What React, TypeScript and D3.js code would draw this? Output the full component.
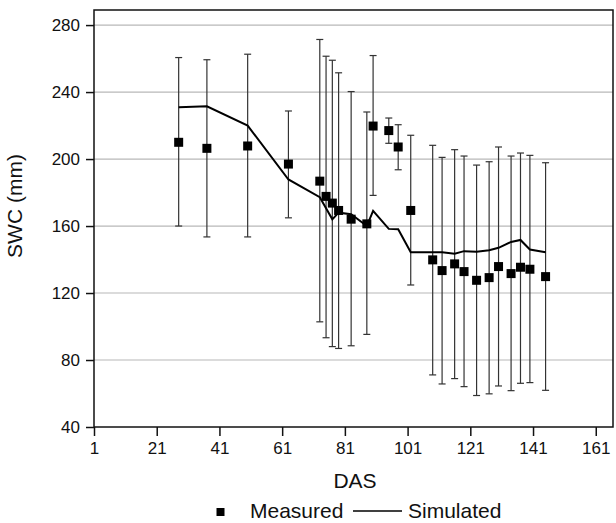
import React, { useEffect, useRef } from 'react';
import * as d3 from 'd3';

// measured soil water content (mean with error bar limits)
const measDays = [28, 37, 50, 63, 73, 75, 77, 79, 83, 88, 90, 95, 98, 102, 109, 112, 116, 119, 123, 127, 130, 134, 137, 140, 145];
const measured = [210, 206.4, 207.8, 197, 186.8, 177.7, 173.7, 169.3, 164.1, 161.3, 219.7, 217, 207.2, 169.3, 139.8, 133.4, 137.4, 132.8, 127.6, 129.2, 135.8, 131.6, 135.4, 134.2, 129.8];
const upper = [260.6, 259.3, 262.6, 228.7, 271.4, 261.4, 259, 251.5, 240.3, 228.1, 261.8, 224.5, 220.5, 214.2, 208.2, 201, 205.6, 201.8, 196.4, 198.4, 207.2, 201.8, 203.6, 202.2, 197.8];
const lower = [160, 153.5, 153.5, 164.9, 102.8, 93.3, 88, 86.9, 88.5, 95.3, 178.3, 209.4, 193.6, 124.8, 71.1, 65.7, 68.9, 64.1, 58.8, 59.8, 64.5, 61.7, 66.1, 66.5, 61.9];

// simulated curve
const simDays = [28, 37, 50, 63, 73, 77, 79, 83, 88, 90, 95, 98, 102, 109, 112, 116, 119, 123, 127, 130, 134, 137, 140, 145];
const simulated = [231, 231.5, 220, 187.8, 177.2, 164, 168, 167, 160, 169, 158.3, 158.1, 144.3, 144.3, 144.3, 143.5, 145, 144.7, 145.5, 147, 150.5, 151.7, 146, 144.3];

const xTicks = [1, 21, 41, 61, 81, 101, 121, 141, 161];
const yTicks = [40, 80, 120, 160, 200, 240, 280];

const FONT = '"Liberation Sans", Arial, sans-serif';

const App = () => {
  const svgRef = useRef<SVGSVGElement>(null);

  useEffect(() => {
    const svg = d3.select(svgRef.current);
    svg.selectAll('*').remove();

    const margin = { top: 10, left: 94 };
    const w = 519;
    const h = 417;

    const x = d3.scaleLinear().domain([1, 166.5]).range([0, w]);
    const y = d3.scaleLinear().domain([40, 289]).range([h, 0]);

    const g = svg.append('g').attr('transform', `translate(${margin.left},${margin.top})`);

    // grid
    g.selectAll('.grid')
      .data(yTicks.filter(t => t > 40))
      .enter().append('line')
      .attr('x1', 0).attr('x2', w)
      .attr('y1', d => y(d)).attr('y2', d => y(d))
      .attr('stroke', '#b8b8b8')
      .attr('stroke-width', 1.2);

    // frame
    g.append('rect')
      .attr('width', w).attr('height', h)
      .attr('fill', 'none')
      .attr('stroke', '#111')
      .attr('stroke-width', 1.5);

    // axes
    const xAxis = g.append('g').attr('transform', `translate(0,${h})`)
      .call(d3.axisBottom(x).tickValues(xTicks).tickSize(9).tickPadding(6).tickFormat(d3.format('d')));
    const yAxis = g.append('g')
      .call(d3.axisLeft(y).tickValues(yTicks).tickSize(8).tickPadding(6).tickFormat(d3.format('d')));
    [xAxis, yAxis].forEach(a => {
      a.select('.domain').remove();
      a.selectAll('line').attr('stroke', '#111').attr('stroke-width', 1.5);
      a.selectAll('text').attr('font-family', FONT).attr('font-size', 17).attr('fill', '#111');
    });

    // error bars
    const bars = g.append('g').attr('stroke', '#333').attr('stroke-width', 1.2);
    measDays.forEach((d, i) => {
      const cx = x(d);
      bars.append('line').attr('x1', cx).attr('x2', cx).attr('y1', y(upper[i])).attr('y2', y(lower[i]));
      bars.append('line').attr('x1', cx - 3.5).attr('x2', cx + 3.5).attr('y1', y(upper[i])).attr('y2', y(upper[i]));
      bars.append('line').attr('x1', cx - 3.5).attr('x2', cx + 3.5).attr('y1', y(lower[i])).attr('y2', y(lower[i]));
    });

    // simulated line
    const line = d3.line<number>().x((_, i) => x(simDays[i])).y(d => y(d));
    g.append('path')
      .datum(simulated)
      .attr('d', line)
      .attr('fill', 'none')
      .attr('stroke', '#000')
      .attr('stroke-width', 2);

    // measured squares
    const s = 9;
    g.selectAll('.pt')
      .data(measured)
      .enter().append('rect')
      .attr('x', (_, i) => x(measDays[i]) - s / 2)
      .attr('y', d => y(d) - s / 2)
      .attr('width', s).attr('height', s)
      .attr('fill', '#000');

    // titles
    svg.append('text')
      .attr('x', 355).attr('y', 488)
      .attr('text-anchor', 'middle')
      .attr('font-family', FONT).attr('font-size', 21).attr('fill', '#111')
      .text('DAS');
    svg.append('text')
      .attr('transform', 'translate(22,206) rotate(-90)')
      .attr('text-anchor', 'middle')
      .attr('font-family', FONT).attr('font-size', 21).attr('fill', '#111')
      .text('SWC (mm)');

    // legend
    const lg = svg.append('g');
    lg.append('rect').attr('x', 216.5).attr('y', 508).attr('width', 8).attr('height', 8).attr('fill', '#000');
    lg.append('text').attr('x', 250).attr('y', 518)
      .attr('font-family', FONT).attr('font-size', 21).attr('fill', '#111').text('Measured');
    lg.append('line').attr('x1', 353).attr('x2', 402).attr('y1', 511).attr('y2', 511)
      .attr('stroke', '#000').attr('stroke-width', 1.5);
    lg.append('text').attr('x', 408).attr('y', 518)
      .attr('font-family', FONT).attr('font-size', 21).attr('fill', '#111').text('Simulated');
  }, []);

  return (
    <svg ref={svgRef} width={616} height={523}
      style={{ position: 'absolute', left: 0, top: 0, background: '#fff' }} />
  );
};

export default App;
